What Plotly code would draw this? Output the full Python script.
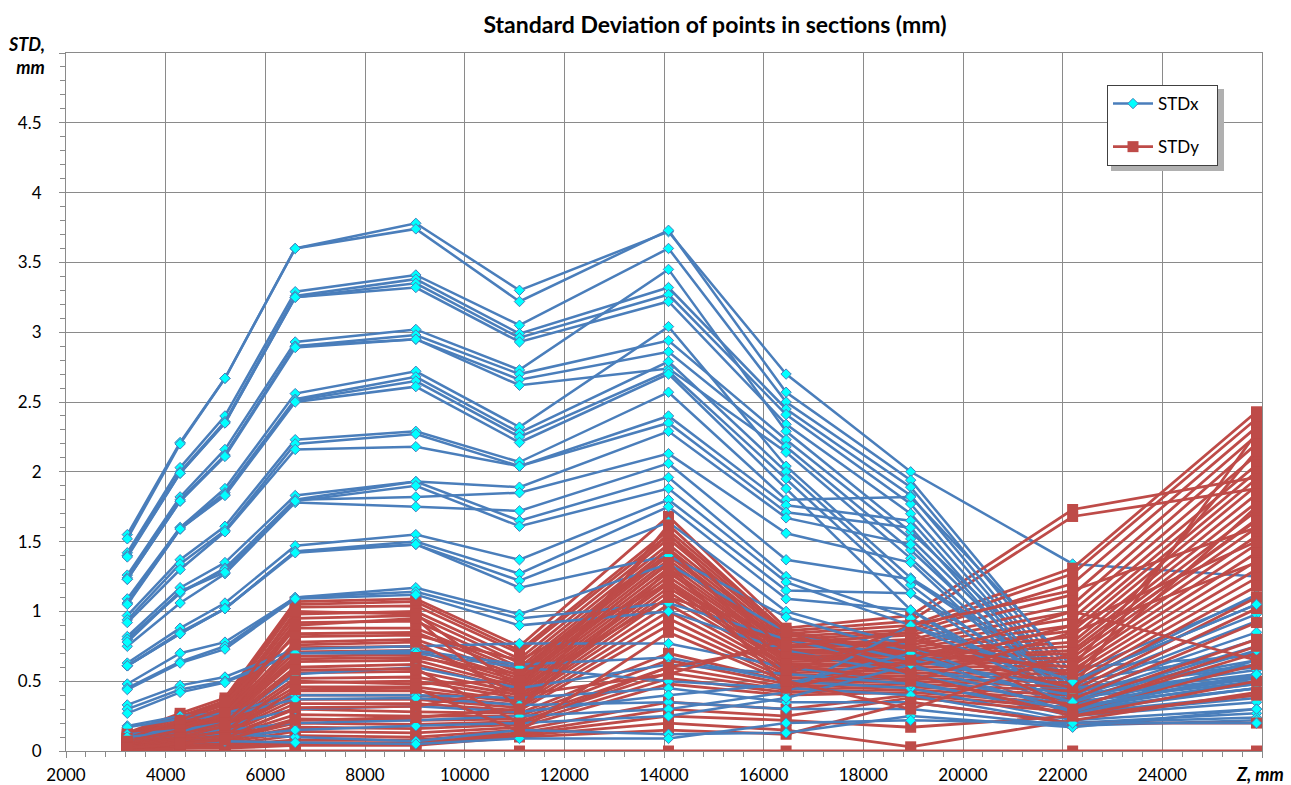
import plotly.graph_objects as go

# Z positions of the measured sections (mm)
z_sections = [3230, 4290, 5190, 6600, 9020, 11100, 14090, 16450, 18950, 22200, 25890]

# STDx lines (mm), one list per line, values at each section
stdx_lines = [
    [1.55, 2.21, 2.67, 3.60, 3.78, 3.30, 3.72, 2.70, 2.00, 1.34, 1.25],
    [1.52, 2.20, 2.67, 3.60, 3.74, 3.22, 3.73, 2.57, 1.94, 0.55, 1.10],
    [1.42, 2.03, 2.40, 3.29, 3.41, 3.05, 3.60, 2.50, 1.89, 0.50, 1.05],
    [1.40, 2.00, 2.36, 3.26, 3.38, 2.99, 3.32, 2.45, 1.83, 0.45, 0.98],
    [1.40, 1.99, 2.35, 3.25, 3.35, 2.96, 3.27, 2.41, 1.77, 0.42, 0.93],
    [1.39, 1.99, 2.35, 3.25, 3.32, 2.93, 3.22, 2.34, 1.70, 0.40, 0.85],
    [1.26, 1.82, 2.16, 2.93, 3.02, 2.73, 3.45, 2.29, 1.57, 0.48, 1.12],
    [1.24, 1.80, 2.12, 2.90, 2.98, 2.70, 2.94, 2.23, 1.52, 0.38, 0.80],
    [1.23, 1.79, 2.12, 2.90, 2.95, 2.66, 2.86, 2.18, 1.44, 0.36, 0.75],
    [1.23, 1.79, 2.11, 2.89, 2.95, 2.62, 2.74, 2.14, 1.38, 0.33, 0.62],
    [1.09, 1.60, 1.88, 2.56, 2.72, 2.32, 3.04, 2.04, 1.24, 0.50, 0.70],
    [1.06, 1.60, 1.85, 2.52, 2.68, 2.28, 2.79, 2.00, 1.19, 0.31, 0.55],
    [1.06, 1.59, 1.84, 2.51, 2.65, 2.25, 2.72, 1.95, 1.13, 0.30, 0.50],
    [1.05, 1.59, 1.83, 2.50, 2.61, 2.21, 2.70, 1.88, 1.01, 0.28, 0.45],
    [0.97, 1.37, 1.61, 2.23, 2.29, 2.07, 2.57, 1.80, 1.82, 0.60, 0.68],
    [0.94, 1.34, 1.58, 2.20, 2.27, 2.04, 2.40, 1.76, 1.65, 0.35, 0.52],
    [0.92, 1.30, 1.57, 2.16, 2.18, 2.04, 2.35, 1.71, 1.60, 0.32, 0.48],
    [0.82, 1.17, 1.35, 1.83, 1.93, 1.89, 2.29, 1.67, 1.48, 0.29, 0.45],
    [0.80, 1.13, 1.31, 1.80, 1.82, 1.85, 2.13, 1.56, 1.35, 0.27, 0.40],
    [0.75, 1.06, 1.27, 1.78, 1.75, 1.72, 2.06, 1.37, 1.23, 0.45, 0.60],
    [0.80, 1.14, 1.30, 1.80, 1.93, 1.65, 1.96, 1.25, 0.95, 0.40, 0.58],
    [0.78, 1.14, 1.28, 1.79, 1.90, 1.61, 1.88, 1.21, 0.90, 0.38, 0.53],
    [0.63, 0.88, 1.06, 1.47, 1.55, 1.37, 1.80, 1.15, 1.13, 0.42, 0.65],
    [0.61, 0.85, 1.02, 1.43, 1.50, 1.27, 1.75, 1.09, 1.01, 0.35, 0.50],
    [0.61, 0.84, 1.02, 1.43, 1.48, 1.22, 1.64, 1.00, 0.75, 0.30, 0.45],
    [0.61, 0.84, 1.02, 1.42, 1.48, 1.17, 1.40, 0.96, 0.70, 0.26, 0.38],
    [0.48, 0.70, 0.78, 1.10, 1.17, 0.98, 1.34, 0.85, 0.65, 0.45, 0.62],
    [0.45, 0.64, 0.75, 1.10, 1.14, 0.95, 1.06, 0.80, 0.60, 0.40, 0.55],
    [0.44, 0.63, 0.73, 1.09, 1.12, 0.90, 1.00, 0.72, 0.55, 0.32, 0.48],
    [0.33, 0.47, 0.53, 0.73, 0.75, 0.77, 0.77, 0.60, 0.50, 0.25, 0.35],
    [0.30, 0.44, 0.50, 0.70, 0.72, 0.62, 0.67, 0.50, 0.45, 0.22, 0.30],
    [0.27, 0.42, 0.49, 0.70, 0.70, 0.60, 0.50, 0.45, 0.40, 0.20, 0.27],
    [0.18, 0.25, 0.27, 0.40, 0.40, 0.38, 0.45, 0.35, 0.35, 0.20, 0.24],
    [0.17, 0.23, 0.25, 0.37, 0.38, 0.33, 0.35, 0.30, 0.30, 0.18, 0.22],
    [0.08, 0.10, 0.12, 0.10, 0.07, 0.15, 0.12, 0.13, 0.25, 0.17, 0.30],
    [0.05, 0.06, 0.07, 0.06, 0.05, 0.09, 0.09, 0.20, 0.22, 0.20, 0.20],
    [0.12, 0.15, 0.20, 0.55, 0.60, 0.45, 0.62, 0.55, 0.48, 0.30, 0.55],
    [0.10, 0.14, 0.18, 0.30, 0.32, 0.28, 0.40, 0.48, 0.70, 0.35, 0.72],
    [0.06, 0.12, 0.15, 0.20, 0.22, 0.25, 0.30, 0.42, 0.90, 0.50, 1.05],
    [0.04, 0.08, 0.10, 0.15, 0.18, 0.20, 0.25, 0.38, 0.62, 0.28, 0.65],
]

# STDy lines (mm)
stdy_lines = [
    [0.00, 0.00, 0.00, 0.00, 0.00, 0.00, 0.00, 0.00, 0.00, 0.00, 0.00],
    [0.13, 0.27, 0.38, 1.07, 1.09, 0.75, 1.68, 0.88, 0.97, 1.73, 1.96],
    [0.12, 0.25, 0.36, 1.05, 1.07, 0.72, 1.58, 0.86, 0.93, 1.68, 1.88],
    [0.11, 0.24, 0.34, 1.03, 1.04, 0.70, 1.55, 0.84, 0.90, 1.31, 2.43],
    [0.10, 0.22, 0.33, 0.98, 1.00, 0.66, 1.52, 0.82, 0.87, 1.27, 2.38],
    [0.10, 0.21, 0.31, 0.95, 0.97, 0.63, 1.48, 0.80, 0.85, 1.20, 2.32],
    [0.09, 0.20, 0.29, 0.92, 0.93, 0.60, 1.45, 0.78, 0.83, 1.12, 2.26],
    [0.09, 0.19, 0.28, 0.88, 0.88, 0.58, 1.42, 0.76, 0.80, 1.05, 2.20],
    [0.08, 0.18, 0.26, 0.84, 0.85, 0.56, 1.40, 0.75, 0.78, 1.00, 2.12],
    [0.08, 0.17, 0.25, 0.78, 0.80, 0.54, 1.37, 0.74, 0.76, 0.95, 2.05],
    [0.07, 0.16, 0.24, 0.74, 0.75, 0.52, 1.34, 0.72, 0.74, 0.90, 2.00],
    [0.07, 0.16, 0.23, 0.71, 0.72, 0.50, 1.31, 0.71, 0.72, 0.86, 1.95],
    [0.06, 0.15, 0.22, 0.68, 0.69, 0.48, 1.28, 0.70, 0.70, 0.82, 1.90],
    [0.06, 0.14, 0.21, 0.64, 0.65, 0.46, 1.25, 0.68, 0.69, 0.78, 1.84],
    [0.06, 0.14, 0.20, 0.60, 0.62, 0.44, 1.22, 0.67, 0.68, 0.75, 1.78],
    [0.05, 0.13, 0.19, 0.56, 0.57, 0.42, 1.20, 0.66, 0.66, 0.72, 1.72],
    [0.05, 0.12, 0.18, 0.52, 0.53, 0.40, 1.17, 0.64, 0.65, 0.70, 1.66],
    [0.05, 0.12, 0.17, 0.49, 0.50, 0.38, 1.14, 0.62, 0.63, 0.67, 1.60],
    [0.04, 0.11, 0.16, 0.46, 0.46, 0.36, 1.10, 0.60, 0.62, 0.64, 1.54],
    [0.04, 0.10, 0.15, 0.43, 0.43, 0.35, 1.05, 0.58, 0.60, 0.61, 1.48],
    [0.04, 0.10, 0.14, 0.40, 0.40, 0.33, 1.00, 0.56, 0.58, 0.58, 1.42],
    [0.03, 0.09, 0.13, 0.37, 0.37, 0.31, 0.95, 0.54, 0.56, 0.55, 1.36],
    [0.03, 0.08, 0.12, 0.34, 0.34, 0.29, 0.90, 0.52, 0.54, 0.52, 1.30],
    [0.03, 0.08, 0.11, 0.30, 0.28, 0.27, 0.70, 0.50, 0.52, 0.49, 1.24],
    [0.03, 0.07, 0.10, 0.26, 0.25, 0.25, 0.65, 0.48, 0.50, 0.46, 1.18],
    [0.02, 0.07, 0.09, 0.23, 0.22, 0.23, 0.60, 0.46, 0.48, 0.43, 1.10],
    [0.02, 0.06, 0.08, 0.20, 0.19, 0.21, 0.56, 0.44, 0.46, 0.40, 1.02],
    [0.02, 0.05, 0.07, 0.17, 0.16, 0.19, 0.52, 0.42, 0.44, 0.37, 0.92],
    [0.02, 0.05, 0.06, 0.14, 0.13, 0.17, 0.48, 0.40, 0.42, 0.34, 0.80],
    [0.01, 0.04, 0.05, 0.11, 0.10, 0.15, 0.35, 0.30, 0.40, 0.31, 0.70],
    [0.01, 0.03, 0.04, 0.08, 0.08, 0.13, 0.30, 0.25, 0.38, 0.28, 0.62],
    [0.01, 0.03, 0.03, 0.06, 0.06, 0.12, 0.25, 0.22, 0.17, 0.25, 0.50],
    [0.01, 0.02, 0.03, 0.05, 0.05, 0.11, 0.20, 0.15, 0.03, 0.22, 0.42],
    [0.00, 0.02, 0.02, 0.04, 0.04, 0.10, 0.15, 0.12, 0.35, 0.20, 0.20],
    [0.12, 0.20, 0.30, 1.00, 0.98, 0.45, 1.56, 0.70, 0.60, 0.90, 1.50],
    [0.10, 0.18, 0.25, 0.90, 0.95, 0.30, 1.62, 0.85, 0.70, 0.60, 2.15],
    [0.09, 0.22, 0.35, 0.82, 0.83, 0.65, 1.20, 0.55, 0.90, 1.15, 1.60],
    [0.07, 0.15, 0.27, 0.76, 0.78, 0.40, 0.55, 0.80, 0.75, 0.45, 2.28],
    [0.06, 0.12, 0.20, 0.66, 0.67, 0.55, 1.45, 0.62, 0.50, 0.85, 1.35],
    [0.05, 0.10, 0.18, 0.58, 0.59, 0.20, 0.60, 0.75, 0.85, 0.30, 0.75],
    [0.04, 0.09, 0.14, 0.50, 0.48, 0.50, 1.35, 0.45, 0.65, 1.00, 0.65],
    [0.03, 0.08, 0.11, 0.44, 0.45, 0.14, 0.85, 0.50, 0.30, 0.70, 1.65],
    [0.03, 0.06, 0.09, 0.31, 0.32, 0.45, 1.10, 0.85, 0.55, 0.25, 0.40],
    [0.02, 0.05, 0.08, 0.22, 0.24, 0.30, 1.30, 0.58, 0.80, 0.55, 1.75],
]

x_tick_vals = [2000, 4000, 6000, 8000, 10000, 12000, 14000, 16000, 18000, 20000, 22000, 24000, 26000]
x_tick_text = ["2000", "4000", "6000", "8000", "10000", "12000", "14000", "16000",
               "18000", "20000", "22000", "24000", ""]
y_tick_vals = [0, 0.5, 1, 1.5, 2, 2.5, 3, 3.5, 4, 4.5, 5]
y_tick_text = ["0", "0.5", "1", "1.5", "2", "2.5", "3", "3.5", "4", "4.5", ""]

BLUE = "#4A7EBB"
CYAN = "#00FFFF"
RED = "#BE4B48"
GRID = "#8A8A8A"
FONT = "Lato"

fig = go.Figure()
n = max(len(stdx_lines), len(stdy_lines))
for i in range(n):
    if i < len(stdx_lines):
        fig.add_trace(go.Scatter(
            x=z_sections, y=stdx_lines[i], mode="lines+markers",
            name="STDx&nbsp;&nbsp;&nbsp;", legendgroup="x", showlegend=(i == 0),
            line=dict(color=BLUE, width=2.5),
            marker=dict(symbol="diamond", size=8, color=CYAN, line=dict(color=BLUE, width=1)),
            hoverinfo="skip"))
    if i < len(stdy_lines):
        fig.add_trace(go.Scatter(
            x=z_sections, y=stdy_lines[i], mode="lines+markers",
            name="STDy&nbsp;&nbsp;&nbsp;", legendgroup="y", showlegend=(i == 0),
            line=dict(color=RED, width=2.8),
            marker=dict(symbol="square", size=11, color=RED, line=dict(color=RED, width=0)),
            hoverinfo="skip"))

L, R, T, B = 66, 29, 53, 34
W, H = 1291, 785
pw, ph = W - L - R, H - T - B


def px_x(px):
    return (px - L) / pw


def px_y(py):
    return (H - B - py) / ph


fig.update_layout(
    width=W, height=H,
    margin=dict(l=L, r=R, t=T, b=B, autoexpand=False),
    paper_bgcolor="white", plot_bgcolor="white",
    font=dict(family=FONT, size=17, color="#000000"),
    title=dict(text="<b>Standard Deviation of points in sections (mm)</b>",
               x=715 / W, xanchor="center", xref="container", y=1 - 25 / H, yanchor="middle",
               yref="container",
               font=dict(family=FONT, size=23, color="#000000")),
    legend=dict(x=px_x(1107), y=px_y(85), xanchor="left", yanchor="top",
                bgcolor="white", bordercolor="#404040", borderwidth=1,
                font=dict(family=FONT, size=17), tracegroupgap=18,
                itemwidth=40),
    showlegend=True,
)

# soft shadow behind legend box
fig.add_shape(type="rect", xref="paper", yref="paper",
              x0=px_x(1111), x1=px_x(1224), y0=px_y(171), y1=px_y(89),
              fillcolor="#B0B0B0", line=dict(width=0), layer="above")

fig.update_xaxes(
    range=[2000, 26000], tickmode="array", tickvals=x_tick_vals, ticktext=x_tick_text,
    automargin=False,
    showgrid=True, gridcolor=GRID, gridwidth=1.2,
    showline=True, linecolor=GRID, linewidth=1.2, mirror=True,
    ticks="outside", ticklen=6, tickcolor=GRID, tickwidth=1.2,
    ticklabelstandoff=2,
    minor=dict(tick0=2000, dtick=400, ticks="outside", ticklen=5, tickcolor=GRID, tickwidth=1.2, showgrid=False),
    zeroline=False, tickfont=dict(family=FONT, size=17, color="#000000"),
)
fig.update_yaxes(
    range=[0, 5], tickmode="array", tickvals=y_tick_vals, ticktext=y_tick_text,
    automargin=False,
    showgrid=True, gridcolor=GRID, gridwidth=1.2,
    showline=True, linecolor=GRID, linewidth=1.2, mirror=True,
    ticks="outside", ticklen=6, tickcolor=GRID, tickwidth=1.2,
    ticklabelstandoff=14,
    minor=dict(tick0=0, dtick=0.1, ticks="outside", ticklen=5, tickcolor=GRID, tickwidth=1.2, showgrid=False),
    zeroline=False, tickfont=dict(family=FONT, size=17, color="#000000"),
)

fig.add_annotation(text="<b><i>STD,<br>mm</i></b>", xref="paper", yref="paper",
                   x=px_x(47), y=px_y(56), xanchor="right", yanchor="middle", align="right",
                   showarrow=False, font=dict(family=FONT, size=18, color="#000000"))
fig.add_annotation(text="<b><i>Z, mm</i></b>", xref="paper", yref="paper",
                   x=px_x(1260), y=px_y(774), xanchor="center", yanchor="middle",
                   showarrow=False, font=dict(family=FONT, size=18, color="#000000"))

fig.write_html("out.html", config={"displayModeBar": False},
               post_script="document.body.style.margin='0';document.body.style.padding='0';")
